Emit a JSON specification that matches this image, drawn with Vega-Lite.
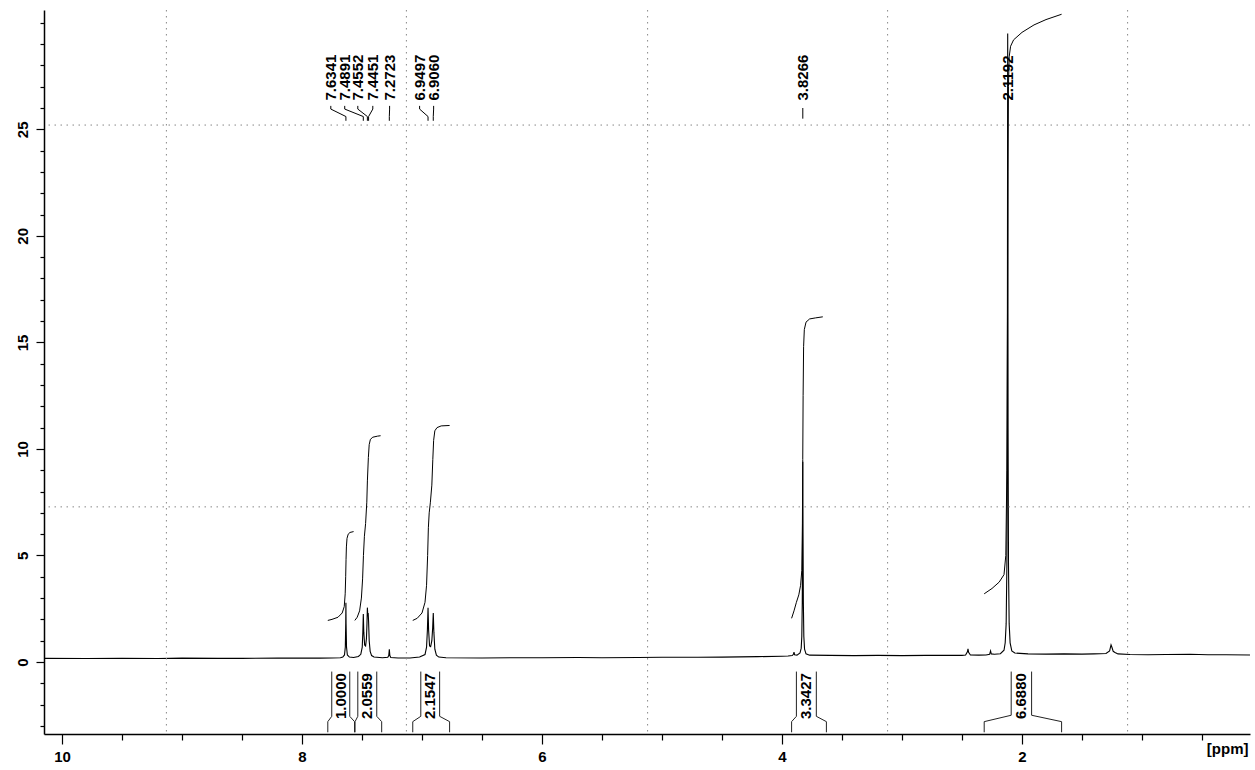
{
  "$schema": "https://vega.github.io/schema/vega-lite/v6.json",
  "autosize": {"type": "none"},
  "width": 1206,
  "height": 724,
  "padding": {"left": 44, "top": 10, "right": 5, "bottom": 36},
  "background": "white",
  "view": {"stroke": null},
  "config": {"font": "Liberation Sans"},
  "resolve": {"axis": {"x": "independent", "y": "independent"}},
  "datasets": {
    "spectrum": [
      {"ppm": 10.15, "v": 0.17}, {"ppm": 9.8, "v": 0.16}, {"ppm": 9.5, "v": 0.17}, {"ppm": 9.2, "v": 0.16}, {"ppm": 9.0, "v": 0.18},
      {"ppm": 8.7, "v": 0.17}, {"ppm": 8.5, "v": 0.17}, {"ppm": 8.2, "v": 0.18}, {"ppm": 8.0, "v": 0.18}, {"ppm": 7.85, "v": 0.18},
      {"ppm": 7.75, "v": 0.19}, {"ppm": 7.68, "v": 0.2},
      {"ppm": 7.66, "v": 0.23}, {"ppm": 7.646, "v": 0.33}, {"ppm": 7.639, "v": 0.7}, {"ppm": 7.6355, "v": 1.8}, {"ppm": 7.6341, "v": 2.78},
      {"ppm": 7.6327, "v": 1.8}, {"ppm": 7.629, "v": 0.7}, {"ppm": 7.622, "v": 0.33}, {"ppm": 7.605, "v": 0.23},
      {"ppm": 7.57, "v": 0.21}, {"ppm": 7.53, "v": 0.26}, {"ppm": 7.51, "v": 0.36}, {"ppm": 7.498, "v": 0.7}, {"ppm": 7.493, "v": 1.4},
      {"ppm": 7.4891, "v": 2.25}, {"ppm": 7.485, "v": 1.4}, {"ppm": 7.478, "v": 0.8}, {"ppm": 7.47, "v": 0.75}, {"ppm": 7.463, "v": 1.1},
      {"ppm": 7.4585, "v": 1.8}, {"ppm": 7.4552, "v": 2.55}, {"ppm": 7.4515, "v": 2.15}, {"ppm": 7.4485, "v": 2.3}, {"ppm": 7.4451, "v": 1.9},
      {"ppm": 7.44, "v": 1.0}, {"ppm": 7.432, "v": 0.5}, {"ppm": 7.42, "v": 0.3}, {"ppm": 7.4, "v": 0.23}, {"ppm": 7.33, "v": 0.2},
      {"ppm": 7.285, "v": 0.22}, {"ppm": 7.277, "v": 0.3}, {"ppm": 7.2723, "v": 0.6}, {"ppm": 7.268, "v": 0.3}, {"ppm": 7.26, "v": 0.21},
      {"ppm": 7.2, "v": 0.19}, {"ppm": 7.1, "v": 0.19}, {"ppm": 7.02, "v": 0.23},
      {"ppm": 6.975, "v": 0.35}, {"ppm": 6.962, "v": 0.7}, {"ppm": 6.955, "v": 1.5}, {"ppm": 6.9497, "v": 2.55}, {"ppm": 6.945, "v": 1.5},
      {"ppm": 6.937, "v": 0.75}, {"ppm": 6.928, "v": 0.72}, {"ppm": 6.918, "v": 1.0}, {"ppm": 6.911, "v": 1.6}, {"ppm": 6.906, "v": 2.3},
      {"ppm": 6.901, "v": 1.4}, {"ppm": 6.893, "v": 0.6}, {"ppm": 6.88, "v": 0.32}, {"ppm": 6.86, "v": 0.23}, {"ppm": 6.8, "v": 0.2},
      {"ppm": 6.5, "v": 0.19}, {"ppm": 6.2, "v": 0.2}, {"ppm": 6.0, "v": 0.2}, {"ppm": 5.7, "v": 0.21}, {"ppm": 5.5, "v": 0.2},
      {"ppm": 5.2, "v": 0.21}, {"ppm": 5.0, "v": 0.22}, {"ppm": 4.7, "v": 0.22}, {"ppm": 4.5, "v": 0.23}, {"ppm": 4.2, "v": 0.25},
      {"ppm": 4.0, "v": 0.27}, {"ppm": 3.95, "v": 0.28},
      {"ppm": 3.915, "v": 0.3}, {"ppm": 3.905, "v": 0.36}, {"ppm": 3.9, "v": 0.46}, {"ppm": 3.895, "v": 0.34}, {"ppm": 3.875, "v": 0.32},
      {"ppm": 3.85, "v": 0.42}, {"ppm": 3.84, "v": 0.65}, {"ppm": 3.835, "v": 1.2}, {"ppm": 3.831, "v": 2.8}, {"ppm": 3.8285, "v": 6.0},
      {"ppm": 3.8266, "v": 9.4}, {"ppm": 3.8247, "v": 6.0}, {"ppm": 3.822, "v": 2.8}, {"ppm": 3.818, "v": 1.2}, {"ppm": 3.812, "v": 0.6},
      {"ppm": 3.8, "v": 0.38}, {"ppm": 3.77, "v": 0.32},
      {"ppm": 3.6, "v": 0.31}, {"ppm": 3.4, "v": 0.3}, {"ppm": 3.2, "v": 0.31}, {"ppm": 3.0, "v": 0.3}, {"ppm": 2.8, "v": 0.31},
      {"ppm": 2.6, "v": 0.31}, {"ppm": 2.5, "v": 0.31},
      {"ppm": 2.47, "v": 0.33}, {"ppm": 2.455, "v": 0.48}, {"ppm": 2.45, "v": 0.62}, {"ppm": 2.445, "v": 0.45}, {"ppm": 2.43, "v": 0.33},
      {"ppm": 2.36, "v": 0.32}, {"ppm": 2.3, "v": 0.33}, {"ppm": 2.27, "v": 0.36}, {"ppm": 2.262, "v": 0.52}, {"ppm": 2.256, "v": 0.38},
      {"ppm": 2.23, "v": 0.36}, {"ppm": 2.18, "v": 0.39},
      {"ppm": 2.15, "v": 0.55}, {"ppm": 2.14, "v": 0.9}, {"ppm": 2.132, "v": 1.8}, {"ppm": 2.126, "v": 4.5}, {"ppm": 2.1225, "v": 11},
      {"ppm": 2.1192, "v": 29.5}, {"ppm": 2.116, "v": 11}, {"ppm": 2.1125, "v": 4.5}, {"ppm": 2.107, "v": 1.8}, {"ppm": 2.099, "v": 0.9},
      {"ppm": 2.085, "v": 0.52}, {"ppm": 2.06, "v": 0.42},
      {"ppm": 1.95, "v": 0.38}, {"ppm": 1.8, "v": 0.37}, {"ppm": 1.65, "v": 0.38}, {"ppm": 1.5, "v": 0.37}, {"ppm": 1.4, "v": 0.38},
      {"ppm": 1.3, "v": 0.4}, {"ppm": 1.27, "v": 0.52}, {"ppm": 1.258, "v": 0.8}, {"ppm": 1.25, "v": 0.68}, {"ppm": 1.24, "v": 0.5},
      {"ppm": 1.225, "v": 0.45}, {"ppm": 1.2, "v": 0.38},
      {"ppm": 1.1, "v": 0.35}, {"ppm": 0.95, "v": 0.34}, {"ppm": 0.8, "v": 0.35}, {"ppm": 0.6, "v": 0.36}, {"ppm": 0.45, "v": 0.34},
      {"ppm": 0.3, "v": 0.34}, {"ppm": 0.1, "v": 0.33}
    ],
    "integrals": [
      {"set": "i1", "ppm": 7.785, "v": 1.95}, {"set": "i1", "ppm": 7.75, "v": 2.0}, {"set": "i1", "ppm": 7.7, "v": 2.1},
      {"set": "i1", "ppm": 7.665, "v": 2.3}, {"set": "i1", "ppm": 7.648, "v": 2.6}, {"set": "i1", "ppm": 7.64, "v": 3.2},
      {"set": "i1", "ppm": 7.636, "v": 4.0}, {"set": "i1", "ppm": 7.633, "v": 4.8}, {"set": "i1", "ppm": 7.63, "v": 5.4},
      {"set": "i1", "ppm": 7.625, "v": 5.8}, {"set": "i1", "ppm": 7.615, "v": 6.0}, {"set": "i1", "ppm": 7.6, "v": 6.08},
      {"set": "i1", "ppm": 7.57, "v": 6.12},
      {"set": "i2", "ppm": 7.56, "v": 1.95}, {"set": "i2", "ppm": 7.54, "v": 2.1}, {"set": "i2", "ppm": 7.52, "v": 2.4},
      {"set": "i2", "ppm": 7.505, "v": 3.0}, {"set": "i2", "ppm": 7.495, "v": 3.9}, {"set": "i2", "ppm": 7.488, "v": 5.0},
      {"set": "i2", "ppm": 7.48, "v": 5.9}, {"set": "i2", "ppm": 7.47, "v": 6.5}, {"set": "i2", "ppm": 7.46, "v": 7.5},
      {"set": "i2", "ppm": 7.455, "v": 8.5}, {"set": "i2", "ppm": 7.447, "v": 9.6}, {"set": "i2", "ppm": 7.44, "v": 10.2},
      {"set": "i2", "ppm": 7.43, "v": 10.45}, {"set": "i2", "ppm": 7.41, "v": 10.55}, {"set": "i2", "ppm": 7.37, "v": 10.6},
      {"set": "i2", "ppm": 7.345, "v": 10.62},
      {"set": "i3", "ppm": 7.077, "v": 1.95}, {"set": "i3", "ppm": 7.04, "v": 2.05}, {"set": "i3", "ppm": 7.0, "v": 2.3},
      {"set": "i3", "ppm": 6.975, "v": 2.8}, {"set": "i3", "ppm": 6.962, "v": 3.6}, {"set": "i3", "ppm": 6.953, "v": 5.0},
      {"set": "i3", "ppm": 6.947, "v": 6.3}, {"set": "i3", "ppm": 6.94, "v": 7.0}, {"set": "i3", "ppm": 6.93, "v": 7.5},
      {"set": "i3", "ppm": 6.918, "v": 8.3}, {"set": "i3", "ppm": 6.91, "v": 9.5}, {"set": "i3", "ppm": 6.903, "v": 10.4},
      {"set": "i3", "ppm": 6.893, "v": 10.85}, {"set": "i3", "ppm": 6.875, "v": 11.0}, {"set": "i3", "ppm": 6.84, "v": 11.08},
      {"set": "i3", "ppm": 6.77, "v": 11.1},
      {"set": "i4", "ppm": 3.92, "v": 2.05}, {"set": "i4", "ppm": 3.9, "v": 2.4}, {"set": "i4", "ppm": 3.88, "v": 2.8},
      {"set": "i4", "ppm": 3.86, "v": 3.15}, {"set": "i4", "ppm": 3.845, "v": 3.6}, {"set": "i4", "ppm": 3.835, "v": 4.3},
      {"set": "i4", "ppm": 3.83, "v": 6.5}, {"set": "i4", "ppm": 3.827, "v": 9.5}, {"set": "i4", "ppm": 3.824, "v": 12.5},
      {"set": "i4", "ppm": 3.82, "v": 14.8}, {"set": "i4", "ppm": 3.814, "v": 15.6}, {"set": "i4", "ppm": 3.8, "v": 15.95},
      {"set": "i4", "ppm": 3.77, "v": 16.1}, {"set": "i4", "ppm": 3.72, "v": 16.15}, {"set": "i4", "ppm": 3.66, "v": 16.2},
      {"set": "i5", "ppm": 2.315, "v": 3.2}, {"set": "i5", "ppm": 2.25, "v": 3.45}, {"set": "i5", "ppm": 2.19, "v": 3.75},
      {"set": "i5", "ppm": 2.15, "v": 4.1}, {"set": "i5", "ppm": 2.135, "v": 5.0}, {"set": "i5", "ppm": 2.126, "v": 9.0},
      {"set": "i5", "ppm": 2.121, "v": 16.0}, {"set": "i5", "ppm": 2.117, "v": 23.0}, {"set": "i5", "ppm": 2.113, "v": 27.0},
      {"set": "i5", "ppm": 2.107, "v": 28.4}, {"set": "i5", "ppm": 2.095, "v": 28.9}, {"set": "i5", "ppm": 2.07, "v": 29.2},
      {"set": "i5", "ppm": 2.0, "v": 29.55}, {"set": "i5", "ppm": 1.9, "v": 29.9}, {"set": "i5", "ppm": 1.8, "v": 30.15},
      {"set": "i5", "ppm": 1.67, "v": 30.4}
    ],
    "brackets": [
      {"side": "1L", "k": 0, "ppm": 7.752, "v": -0.45}, {"side": "1L", "k": 1, "ppm": 7.752, "v": -2.55}, {"side": "1L", "k": 2, "ppm": 7.785, "v": -2.8}, {"side": "1L", "k": 3, "ppm": 7.785, "v": -3.3},
      {"side": "1R", "k": 0, "ppm": 7.602, "v": -0.45}, {"side": "1R", "k": 1, "ppm": 7.602, "v": -2.55}, {"side": "1R", "k": 2, "ppm": 7.562, "v": -2.8}, {"side": "1R", "k": 3, "ppm": 7.562, "v": -3.3},
      {"side": "2L", "k": 0, "ppm": 7.535, "v": -0.45}, {"side": "2L", "k": 1, "ppm": 7.535, "v": -2.55}, {"side": "2L", "k": 2, "ppm": 7.558, "v": -2.8}, {"side": "2L", "k": 3, "ppm": 7.558, "v": -3.3},
      {"side": "2R", "k": 0, "ppm": 7.377, "v": -0.45}, {"side": "2R", "k": 1, "ppm": 7.377, "v": -2.55}, {"side": "2R", "k": 2, "ppm": 7.336, "v": -2.8}, {"side": "2R", "k": 3, "ppm": 7.336, "v": -3.3},
      {"side": "3L", "k": 0, "ppm": 7.01, "v": -0.45}, {"side": "3L", "k": 1, "ppm": 7.01, "v": -2.55}, {"side": "3L", "k": 2, "ppm": 7.077, "v": -2.8}, {"side": "3L", "k": 3, "ppm": 7.077, "v": -3.3},
      {"side": "3R", "k": 0, "ppm": 6.853, "v": -0.45}, {"side": "3R", "k": 1, "ppm": 6.853, "v": -2.55}, {"side": "3R", "k": 2, "ppm": 6.77, "v": -2.8}, {"side": "3R", "k": 3, "ppm": 6.77, "v": -3.3},
      {"side": "4L", "k": 0, "ppm": 3.88, "v": -0.45}, {"side": "4L", "k": 1, "ppm": 3.88, "v": -2.55}, {"side": "4L", "k": 2, "ppm": 3.92, "v": -2.8}, {"side": "4L", "k": 3, "ppm": 3.92, "v": -3.3},
      {"side": "4R", "k": 0, "ppm": 3.714, "v": -0.45}, {"side": "4R", "k": 1, "ppm": 3.714, "v": -2.55}, {"side": "4R", "k": 2, "ppm": 3.63, "v": -2.8}, {"side": "4R", "k": 3, "ppm": 3.63, "v": -3.3},
      {"side": "5L", "k": 0, "ppm": 2.09, "v": -0.45}, {"side": "5L", "k": 1, "ppm": 2.09, "v": -2.5}, {"side": "5L", "k": 2, "ppm": 2.315, "v": -2.8}, {"side": "5L", "k": 3, "ppm": 2.315, "v": -3.3},
      {"side": "5R", "k": 0, "ppm": 1.92, "v": -0.45}, {"side": "5R", "k": 1, "ppm": 1.92, "v": -2.5}, {"side": "5R", "k": 2, "ppm": 1.67, "v": -2.8}, {"side": "5R", "k": 3, "ppm": 1.67, "v": -3.3}
    ],
    "integralValues": [
      {"ppm": 7.677, "v": -1.6, "label": "1.0000"},
      {"ppm": 7.456, "v": -1.6, "label": "2.0559"},
      {"ppm": 6.931, "v": -1.6, "label": "2.1547"},
      {"ppm": 3.797, "v": -1.6, "label": "3.3427"},
      {"ppm": 2.005, "v": -1.6, "label": "6.6880"}
    ],
    "peakLabels": [
      {"ppm": 7.76, "v": 26.35, "label": "7.6341"},
      {"ppm": 7.644, "v": 26.35, "label": "7.4891"},
      {"ppm": 7.535, "v": 26.35, "label": "7.4552"},
      {"ppm": 7.41, "v": 26.35, "label": "7.4451"},
      {"ppm": 7.27, "v": 26.35, "label": "7.2723"},
      {"ppm": 7.02, "v": 26.35, "label": "6.9497"},
      {"ppm": 6.903, "v": 26.35, "label": "6.9060"},
      {"ppm": 3.8266, "v": 26.35, "label": "3.8266"},
      {"ppm": 2.1192, "v": 26.35, "label": "2.1192"}
    ],
    "leaders": [
      {"peak": "a", "k": 0, "ppm": 7.76, "v": 26.1}, {"peak": "a", "k": 1, "ppm": 7.76, "v": 25.95}, {"peak": "a", "k": 2, "ppm": 7.6341, "v": 25.6}, {"peak": "a", "k": 3, "ppm": 7.6341, "v": 25.4},
      {"peak": "b", "k": 0, "ppm": 7.644, "v": 26.1}, {"peak": "b", "k": 1, "ppm": 7.644, "v": 25.95}, {"peak": "b", "k": 2, "ppm": 7.4891, "v": 25.6}, {"peak": "b", "k": 3, "ppm": 7.4891, "v": 25.4},
      {"peak": "c", "k": 0, "ppm": 7.535, "v": 26.1}, {"peak": "c", "k": 1, "ppm": 7.535, "v": 25.95}, {"peak": "c", "k": 2, "ppm": 7.4552, "v": 25.6}, {"peak": "c", "k": 3, "ppm": 7.4552, "v": 25.4},
      {"peak": "d", "k": 0, "ppm": 7.41, "v": 26.1}, {"peak": "d", "k": 1, "ppm": 7.41, "v": 25.95}, {"peak": "d", "k": 2, "ppm": 7.4451, "v": 25.6}, {"peak": "d", "k": 3, "ppm": 7.4451, "v": 25.4},
      {"peak": "e", "k": 0, "ppm": 7.27, "v": 26.1}, {"peak": "e", "k": 1, "ppm": 7.27, "v": 25.95}, {"peak": "e", "k": 2, "ppm": 7.2723, "v": 25.6}, {"peak": "e", "k": 3, "ppm": 7.2723, "v": 25.4},
      {"peak": "f", "k": 0, "ppm": 7.02, "v": 26.1}, {"peak": "f", "k": 1, "ppm": 7.02, "v": 25.95}, {"peak": "f", "k": 2, "ppm": 6.9497, "v": 25.6}, {"peak": "f", "k": 3, "ppm": 6.9497, "v": 25.4},
      {"peak": "g", "k": 0, "ppm": 6.903, "v": 26.1}, {"peak": "g", "k": 1, "ppm": 6.903, "v": 25.95}, {"peak": "g", "k": 2, "ppm": 6.906, "v": 25.6}, {"peak": "g", "k": 3, "ppm": 6.906, "v": 25.4},
      {"peak": "h", "k": 0, "ppm": 3.8266, "v": 26.0}, {"peak": "h", "k": 1, "ppm": 3.8266, "v": 25.5}
    ],
    "gridX": [{"ppm": 9.13}, {"ppm": 7.13}, {"ppm": 5.12}, {"ppm": 3.12}, {"ppm": 1.12}],
    "gridY": [{"v": 25.2}, {"v": 7.28}]
  },
  "layer": [
    {
      "data": {"name": "spectrum"},
      "mark": {"type": "line", "color": "black", "strokeWidth": 1.1, "clip": true},
      "encoding": {
        "x": {
          "field": "ppm", "type": "quantitative",
          "scale": {"domain": [10.15, 0.1], "nice": false, "zero": false},
          "axis": {
            "orient": "bottom",
            "values": [10, 8, 6, 4, 2],
            "format": "d",
            "tickSize": 10,
            "grid": false, "domainColor": "black", "domainWidth": 1.5, "tickColor": "black", "tickWidth": 1.2,
            "labelFont": "Liberation Sans", "labelFontSize": 15, "labelFontWeight": "bold", "labelColor": "black",
            "labelPadding": 5, "labelFlush": false, "labelOverlap": false,
            "title": "[ppm]", "titleFont": "Liberation Sans", "titleFontSize": 15, "titleFontWeight": "bold", "titleColor": "black",
            "titleAnchor": "end", "titleAlign": "right", "titleBaseline": "middle", "titleX": 1204, "titleY": 14
          }
        },
        "y": {
          "field": "v", "type": "quantitative",
          "scale": {"domain": [-3.38, 30.6], "nice": false, "zero": false},
          "axis": {
            "orient": "left",
            "values": [0, 5, 10, 15, 20, 25],
            "format": "d",
            "tickSize": 8,
            "grid": false, "domainColor": "black", "domainWidth": 1.5, "tickColor": "black", "tickWidth": 1.2,
            "labelFont": "Liberation Sans", "labelFontSize": 15, "labelFontWeight": "bold", "labelColor": "black",
            "labelAngle": 270, "labelAlign": "center", "labelBaseline": "bottom", "labelPadding": 6,
            "labelFlush": false, "labelOverlap": false, "title": null
          }
        }
      }
    },
    {
      "data": {"name": "gridX"},
      "mark": {"type": "rule", "color": "#888888", "strokeWidth": 1, "strokeDash": [1.5, 4.5]},
      "encoding": {
        "x": {
          "field": "ppm", "type": "quantitative",
          "axis": {
            "orient": "bottom",
            "values": [9.5, 9, 8.5, 7.5, 7, 6.5, 5.5, 5, 4.5, 3.5, 3, 2.5, 1.5, 1, 0.5],
            "labels": false, "domain": false, "grid": false, "tickSize": 6, "tickColor": "black", "tickWidth": 1.2, "title": null
          }
        }
      }
    },
    {
      "data": {"name": "gridY"},
      "mark": {"type": "rule", "color": "#888888", "strokeWidth": 1, "strokeDash": [1.5, 4.5]},
      "encoding": {
        "y": {
          "field": "v", "type": "quantitative",
          "axis": {
            "orient": "left",
            "values": [-3, -2, -1, 1, 2, 3, 4, 6, 7, 8, 9, 11, 12, 13, 14, 16, 17, 18, 19, 21, 22, 23, 24, 26, 27, 28, 29, 30],
            "labels": false, "domain": false, "grid": false, "tickSize": 4, "tickColor": "black", "tickWidth": 1.2, "title": null
          }
        }
      }
    },
    {
      "data": {"name": "integrals"},
      "mark": {"type": "line", "color": "black", "strokeWidth": 1, "clip": true},
      "encoding": {
        "x": {"field": "ppm", "type": "quantitative", "axis": null},
        "y": {"field": "v", "type": "quantitative", "axis": null},
        "detail": {"field": "set", "type": "nominal"}
      }
    },
    {
      "data": {"name": "brackets"},
      "mark": {"type": "line", "color": "#222222", "strokeWidth": 1},
      "encoding": {
        "x": {"field": "ppm", "type": "quantitative", "axis": null},
        "y": {"field": "v", "type": "quantitative", "axis": null},
        "detail": {"field": "side", "type": "nominal"},
        "order": {"field": "k", "type": "quantitative"}
      }
    },
    {
      "data": {"name": "integralValues"},
      "mark": {"type": "text", "angle": 270, "align": "center", "baseline": "middle", "font": "Liberation Sans", "fontSize": 15, "fontWeight": "bold", "color": "black"},
      "encoding": {
        "x": {"field": "ppm", "type": "quantitative", "axis": null},
        "y": {"field": "v", "type": "quantitative", "axis": null},
        "text": {"field": "label", "type": "nominal"}
      }
    },
    {
      "data": {"name": "peakLabels"},
      "mark": {"type": "text", "angle": 270, "align": "left", "baseline": "middle", "font": "Liberation Sans", "fontSize": 15, "fontWeight": "bold", "color": "black"},
      "encoding": {
        "x": {"field": "ppm", "type": "quantitative", "axis": null},
        "y": {"field": "v", "type": "quantitative", "axis": null},
        "text": {"field": "label", "type": "nominal"}
      }
    },
    {
      "data": {"name": "leaders"},
      "mark": {"type": "line", "color": "black", "strokeWidth": 1},
      "encoding": {
        "x": {"field": "ppm", "type": "quantitative", "axis": null},
        "y": {"field": "v", "type": "quantitative", "axis": null},
        "detail": {"field": "peak", "type": "nominal"},
        "order": {"field": "k", "type": "quantitative"}
      }
    }
  ]
}
